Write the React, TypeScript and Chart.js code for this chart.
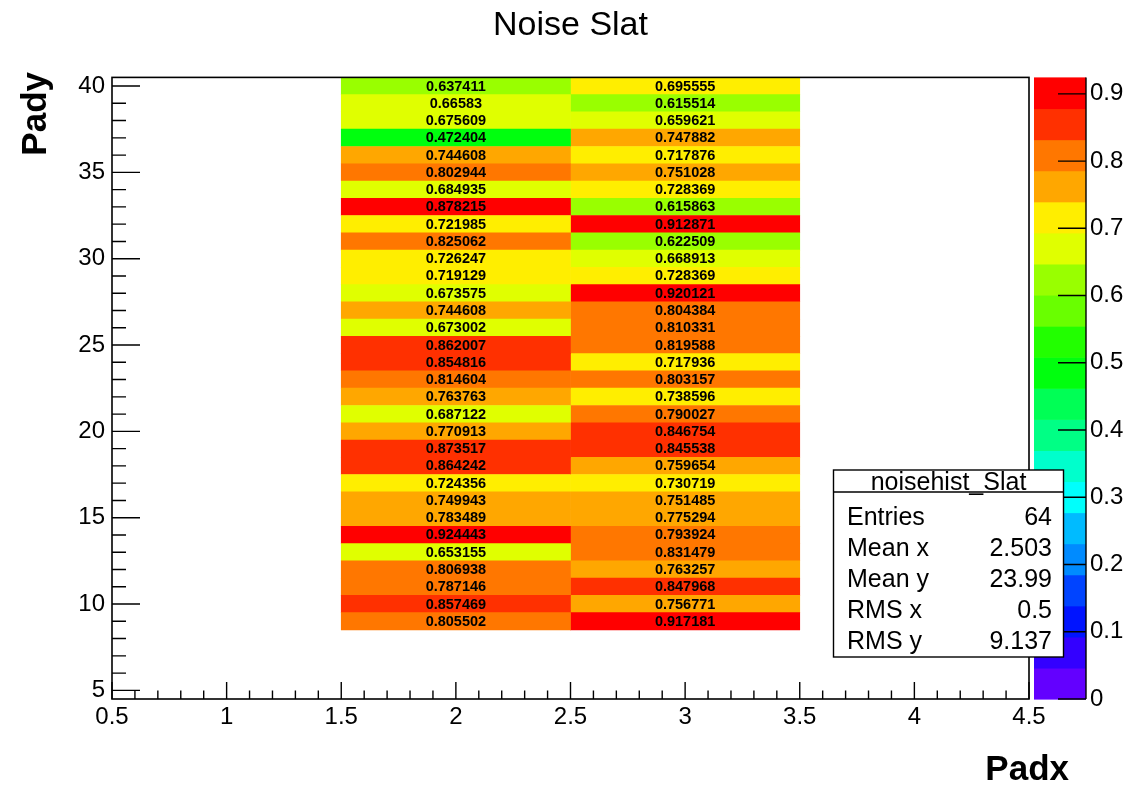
import { useEffect, useRef } from "react";
import { Chart, registerables } from "chart.js";

Chart.register(...registerables);

const FONT = '"Liberation Sans", Arial, Helvetica, sans-serif';

const TITLE = "Noise Slat";
const X_TITLE = "Padx";
const Y_TITLE = "Pady";
const HIST_NAME = "noisehist_Slat";

// Bin centres
const PADX_BINS = [2, 3];
const PADY_BINS = [
  40, 39, 38, 37, 36, 35, 34, 33, 32, 31, 30, 29, 28, 27, 26, 25,
  24, 23, 22, 21, 20, 19, 18, 17, 16, 15, 14, 13, 12, 11, 10, 9,
];
const BIN_WIDTH = 1;

// Noise per pad, one list per Padx column, ordered like PADY_BINS
const NOISE_PADX2 = [
  0.637411, 0.66583, 0.675609, 0.472404, 0.744608, 0.802944, 0.684935, 0.878215,
  0.721985, 0.825062, 0.726247, 0.719129, 0.673575, 0.744608, 0.673002, 0.862007,
  0.854816, 0.814604, 0.763763, 0.687122, 0.770913, 0.873517, 0.864242, 0.724356,
  0.749943, 0.783489, 0.924443, 0.653155, 0.806938, 0.787146, 0.857469, 0.805502,
];
const NOISE_PADX3 = [
  0.695555, 0.615514, 0.659621, 0.747882, 0.717876, 0.751028, 0.728369, 0.615863,
  0.912871, 0.622509, 0.668913, 0.728369, 0.920121, 0.804384, 0.810331, 0.819588,
  0.717936, 0.803157, 0.738596, 0.790027, 0.846754, 0.845538, 0.759654, 0.730719,
  0.751485, 0.775294, 0.793924, 0.831479, 0.763257, 0.847968, 0.756771, 0.917181,
];
const COLUMNS = [NOISE_PADX2, NOISE_PADX3];

// Axis ticks
const X_TICKS = [0.5, 1, 1.5, 2, 2.5, 3, 3.5, 4, 4.5];
const Y_TICKS = [5, 10, 15, 20, 25, 30, 35, 40];
const Z_TICKS = [0, 0.1, 0.2, 0.3, 0.4, 0.5, 0.6, 0.7, 0.8, 0.9];

// Statistics box
const STAT_NAMES = ["Entries", "Mean x", "Mean y", "RMS x", "RMS y"];
const STAT_VALUES = ["64", "2.503", "23.99", "0.5", "9.137"];

// 20 contour colours, violet → red
const PALETTE = [
  "#6300ff", "#3300ff", "#0014ff", "#0044ff", "#008bff",
  "#00bbff", "#00fffc", "#00ffcc", "#00ff85", "#00ff55",
  "#00ff0e", "#22ff00", "#69ff00", "#99ff00", "#e0ff00",
  "#ffee00", "#ffa700", "#ff7700", "#ff3000", "#ff0000",
];
const N_LEVELS = PALETTE.length;

const Z_MAX = Math.max(...NOISE_PADX2, ...NOISE_PADX3);
const Z_MIN = 0;

function levelColor(v: number): string {
  let k = Math.floor(0.01 + ((v - Z_MIN) / (Z_MAX - Z_MIN)) * N_LEVELS);
  if (k > N_LEVELS - 1) k = N_LEVELS - 1;
  if (k < 0) k = 0;
  return PALETTE[k];
}

const decorPlugin = {
  id: "rootDecor",
  afterDatasetsDraw(chart: any) {
    const ctx = chart.ctx as CanvasRenderingContext2D;
    ctx.save();
    ctx.font = `bold 14.5px ${FONT}`;
    ctx.fillStyle = "#000";
    ctx.textAlign = "center";
    ctx.textBaseline = "middle";
    COLUMNS.forEach((col, di) => {
      const meta = chart.getDatasetMeta(di);
      meta.data.forEach((el: any, i: number) => {
        const c = el.getCenterPoint();
        ctx.fillText(String(col[i]), c.x, c.y + 0.5);
      });
    });
    ctx.restore();
  },
  afterDraw(chart: any) {
    const ctx = chart.ctx as CanvasRenderingContext2D;
    const { left, right, top, bottom } = chart.chartArea;
    const xs = chart.scales.x;
    const ys = chart.scales.y;
    const zs = chart.scales.z;
    ctx.save();

    // frame
    ctx.strokeStyle = "#000";
    ctx.lineWidth = 1.6;
    ctx.strokeRect(left, top, right - left, bottom - top);

    // inward tick marks
    ctx.lineWidth = 1.4;
    ctx.beginPath();
    for (let i = 0; i <= 40; i++) {
      const v = 0.5 + i * 0.1;
      const px = xs.getPixelForValue(v);
      const len = i % 5 === 0 ? 17 : 8.5;
      ctx.moveTo(px, bottom);
      ctx.lineTo(px, bottom - len);
    }
    for (let v = 5; v <= 40; v++) {
      const py = ys.getPixelForValue(v);
      const len = v % 5 === 0 ? 28 : 14;
      ctx.moveTo(left, py);
      ctx.lineTo(left + len, py);
    }
    ctx.stroke();

    // colour palette
    const bx0 = right + 5;
    const bx1 = right + 57;
    for (let k = 0; k < N_LEVELS; k++) {
      const z0 = Z_MIN + (k * (Z_MAX - Z_MIN)) / N_LEVELS;
      const z1 = Z_MIN + ((k + 1) * (Z_MAX - Z_MIN)) / N_LEVELS;
      const y0 = zs.getPixelForValue(z0);
      const y1 = zs.getPixelForValue(z1);
      ctx.fillStyle = PALETTE[k];
      ctx.fillRect(bx0, y1, bx1 - bx0, y0 - y1 + 0.6);
    }
    ctx.strokeStyle = "#000";
    ctx.lineWidth = 1.4;
    ctx.beginPath();
    ctx.moveTo(bx1, top);
    ctx.lineTo(bx1, bottom);
    Z_TICKS.forEach((t) => {
      const py = zs.getPixelForValue(t);
      ctx.moveTo(bx1 - 28, py);
      ctx.lineTo(bx1, py);
    });
    ctx.stroke();

    // statistics box
    const sx = 833.5;
    const sy = 470;
    const sw = 230;
    const sh = 187;
    ctx.fillStyle = "#fff";
    ctx.fillRect(sx, sy, sw, sh);
    ctx.strokeStyle = "#000";
    ctx.lineWidth = 1.4;
    ctx.strokeRect(sx, sy, sw, sh);
    ctx.beginPath();
    ctx.moveTo(sx, sy + 22);
    ctx.lineTo(sx + sw, sy + 22);
    ctx.stroke();
    ctx.fillStyle = "#000";
    ctx.font = `25px ${FONT}`;
    ctx.textBaseline = "alphabetic";
    ctx.textAlign = "center";
    ctx.fillText(HIST_NAME, sx + sw / 2, sy + 20);
    STAT_NAMES.forEach((name, i) => {
      const by = sy + 55 + i * 31;
      ctx.textAlign = "left";
      ctx.fillText(name, sx + 13.5, by);
      ctx.textAlign = "right";
      ctx.fillText(STAT_VALUES[i], sx + sw - 11.5, by);
    });

    // axis titles
    ctx.font = `bold 35px ${FONT}`;
    ctx.textAlign = "right";
    ctx.textBaseline = "alphabetic";
    ctx.fillText(X_TITLE, 1069, 780);
    ctx.save();
    ctx.translate(46, 72);
    ctx.rotate(-Math.PI / 2);
    ctx.textAlign = "right";
    ctx.fillText(Y_TITLE, 0, 0);
    ctx.restore();

    ctx.restore();
  },
};

export default function App() {
  const ref = useRef<HTMLCanvasElement>(null);

  useEffect(() => {
    const canvas = ref.current;
    if (!canvas) return;

    const datasets = COLUMNS.map((col, di) => ({
      label: `Padx ${PADX_BINS[di]}`,
      data: PADY_BINS.map((y) => ({
        y,
        x: [PADX_BINS[di] - BIN_WIDTH / 2, PADX_BINS[di] + BIN_WIDTH / 2],
      })),
      backgroundColor: col.map(levelColor),
      borderWidth: 0,
      grouped: false,
      barPercentage: 1,
      categoryPercentage: 1,
    }));

    const tickFont = { family: FONT, size: 24 };

    const chart = new Chart(canvas, {
      type: "bar",
      data: { datasets: datasets as any },
      options: {
        indexAxis: "y",
        animation: false,
        responsive: false,
        devicePixelRatio: 1,
        layout: { padding: 0 },
        plugins: {
          legend: { display: false },
          tooltip: { enabled: false },
          title: {
            display: true,
            text: TITLE,
            fullSize: false,
            color: "#000",
            font: { family: FONT, size: 34, weight: "normal" },
            padding: { top: 4.9, bottom: 31.7 },
          },
        },
        scales: {
          x: {
            type: "linear",
            position: "bottom",
            min: 0.5,
            max: 4.5,
            offset: false,
            grid: { display: false, drawTicks: false, offset: false },
            border: { display: false },
            ticks: {
              color: "#000",
              font: tickFont,
              padding: 3.5,
              autoSkip: false,
              maxRotation: 0,
              callback: (v: any) => String(v),
            },
            afterBuildTicks: (s: any) => {
              s.ticks = X_TICKS.map((value) => ({ value }));
            },
            afterFit: (s: any) => {
              s.height = 90;
            },
          },
          y: {
            type: "linear",
            position: "left",
            min: 4.5,
            max: 40.5,
            offset: false,
            grid: { display: false, drawTicks: false, offset: false },
            border: { display: false },
            ticks: {
              color: "#000",
              font: tickFont,
              padding: 7,
              autoSkip: false,
              callback: (v: any) => String(v),
            },
            afterBuildTicks: (s: any) => {
              s.ticks = Y_TICKS.map((value) => ({ value }));
            },
            afterFit: (s: any) => {
              s.width = 112;
            },
          },
          z: {
            type: "linear",
            position: "right",
            min: Z_MIN,
            max: Z_MAX,
            offset: false,
            grid: { display: false, drawTicks: false, offset: false },
            border: { display: false },
            ticks: {
              color: "#000",
              font: tickFont,
              padding: 61,
              autoSkip: false,
              callback: (v: any) => String(v),
            },
            afterBuildTicks: (s: any) => {
              s.ticks = Z_TICKS.map((value) => ({ value }));
            },
            afterFit: (s: any) => {
              s.width = 101;
            },
          },
        } as any,
      },
      plugins: [decorPlugin],
    });

    return () => chart.destroy();
  }, []);

  return (
    <canvas
      ref={ref}
      width={1130}
      height={789}
      style={{
        position: "fixed",
        left: 0,
        top: 0,
        width: 1130,
        height: 789,
        display: "block",
        background: "#fff",
      }}
    />
  );
}
